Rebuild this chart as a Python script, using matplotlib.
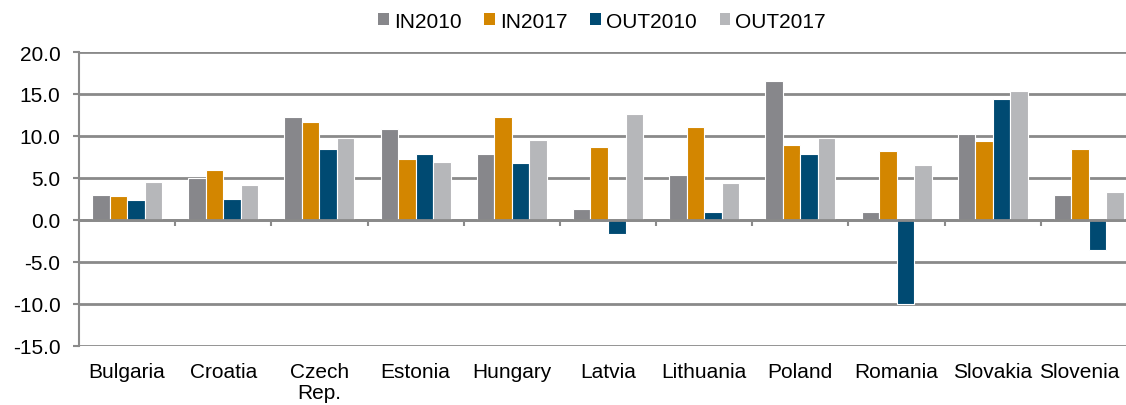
import numpy as np
import matplotlib.pyplot as plt
from matplotlib.patches import Patch

plt.rcParams['font.family'] = ['Liberation Sans', 'DejaVu Sans']

# Данные
countries = ['Bulgaria', 'Croatia', 'Czech\nRep.', 'Estonia', 'Hungary', 'Latvia',
             'Lithuania', 'Poland', 'Romania', 'Slovakia', 'Slovenia']
in2010 = [2.9, 5.0, 12.2, 10.8, 7.9, 1.3, 5.4, 16.6, 0.95, 10.2, 3.0]
in2017 = [2.8, 5.9, 11.7, 7.2, 12.2, 8.7, 11.1, 8.9, 8.2, 9.4, 8.5]
out2010 = [2.4, 2.5, 8.5, 7.9, 6.75, -1.7, 0.95, 7.8, -10.0, 14.45, -3.6]
out2017 = [4.5, 4.2, 9.8, 6.9, 9.5, 12.6, 4.4, 9.7, 6.55, 15.3, 3.3]

series = ['IN2010', 'IN2017', 'OUT2010', 'OUT2017']
colors = ['#87878B', '#D38600', '#004A72', '#B6B7BA']
values = [in2010, in2017, out2010, out2017]

fig = plt.figure(figsize=(11.26, 4.06), dpi=100)
# правый край оси уходит за пределы картинки, как в оригинале
ax = fig.add_axes([79 / 1126, 59.3 / 406, (1137 - 79) / 1126, (346.7 - 53) / 406])

x = np.arange(len(countries))
w = 0.182
for i, (vals, c) in enumerate(zip(values, colors)):
    ax.bar(x + (i - 1.5) * w, vals, w, color=c, edgecolor='white', linewidth=0.8,
           zorder=3, label=series[i])

grid_c = '#8A8A8A'
fs = 15
ax.set_ylim(-15, 20)
ax.set_xlim(-0.5, len(countries) - 0.5)
yt = np.arange(-15, 21, 5)
ax.set_yticks(yt)
ax.set_yticklabels([f'{v:.1f}' for v in yt], fontsize=fs)
ax.yaxis.grid(True, color=grid_c, linewidth=2, zorder=0)
ax.tick_params(axis='y', length=4.3, width=1.5, color=grid_c, pad=9)

for s in ['top', 'right']:
    ax.spines[s].set_visible(False)
ax.spines['left'].set_color(grid_c)
ax.spines['left'].set_linewidth(1.5)
ax.spines['bottom'].set_position(('data', 0))
ax.spines['bottom'].set_color(grid_c)
ax.spines['bottom'].set_linewidth(2)
ax.spines['bottom'].set_zorder(4)

# засечки между категориями
ax.set_xticks(np.arange(0.5, len(countries) - 0.5, 1))
ax.set_xticklabels([])
ax.tick_params(axis='x', length=4.3, width=1.5, color=grid_c, direction='out')

# подписи стран внизу (последнюю прижимаем к правому краю, чтобы не обрезалась)
for xi, name in zip(x, countries):
    if xi == x[-1]:
        ax.text(xi + 0.32, -0.055, name, transform=ax.get_xaxis_transform(),
                ha='right', va='top', fontsize=fs)
    else:
        ax.text(xi, -0.055, name, transform=ax.get_xaxis_transform(), ha='center',
                va='top', fontsize=fs, linespacing=1.15)

handles = [Patch(facecolor=c, edgecolor='none') for c in colors]
fig.legend(handles, series, loc='center', bbox_to_anchor=(602 / 1126, 1 - 22 / 406),
           ncol=4, frameon=False, fontsize=fs, handlelength=0.5, handleheight=0.5,
           handletextpad=0.25, columnspacing=1.1)

plt.savefig('out.png', dpi=100)
